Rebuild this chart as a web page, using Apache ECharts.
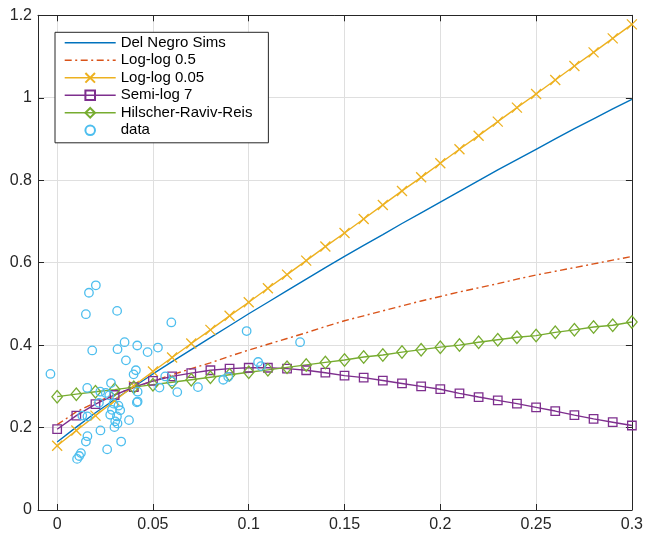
<!DOCTYPE html>
<html><head><meta charset="utf-8">
<script src="https://cdn.jsdelivr.net/npm/echarts@6/dist/echarts.min.js"></script>
<style>html,body{margin:0;padding:0;background:#fff}#c{width:646px;height:533px}</style>
</head><body><div id="c"></div>
<script>
const seriesNames = ['Del Negro Sims', 'Log-log 0.5', 'Log-log 0.05', 'Semi-log 7', 'Hilscher-Raviv-Reis', 'data'];
const xTicks = [0, 0.05, 0.1, 0.15, 0.2, 0.25, 0.3];
const yTicks = [0, 0.2, 0.4, 0.6, 0.8, 1, 1.2];
const xFit = [0,0.01,0.02,0.03,0.04,0.05,0.06,0.07,0.08,0.09,0.1,0.11,0.12,0.13,0.14,0.15,0.16,0.17,0.18,0.19,0.2,0.21,0.22,0.23,0.24,0.25,0.26,0.27,0.28,0.29,0.3];
const delNegroSims = [0.165,0.201,0.236,0.268,0.299,0.330,0.360,0.389,0.418,0.447,0.476,0.504,0.532,0.560,0.588,0.615,0.642,0.668,0.695,0.721,0.747,0.773,0.799,0.825,0.850,0.875,0.900,0.925,0.949,0.973,0.996];
const logLog05 = [0.207,0.238,0.261,0.280,0.297,0.313,0.328,0.343,0.357,0.373,0.388,0.402,0.416,0.430,0.445,0.459,0.471,0.483,0.495,0.507,0.518,0.529,0.539,0.549,0.560,0.570,0.579,0.588,0.597,0.606,0.615];
const logLog005 = [0.156,0.193,0.229,0.265,0.301,0.336,0.370,0.404,0.437,0.471,0.504,0.538,0.571,0.605,0.639,0.672,0.706,0.740,0.774,0.807,0.841,0.875,0.908,0.942,0.976,1.009,1.043,1.077,1.110,1.144,1.178];
const semiLog7 = [0.196,0.229,0.257,0.279,0.298,0.313,0.324,0.332,0.339,0.343,0.345,0.345,0.343,0.339,0.333,0.326,0.321,0.314,0.307,0.300,0.293,0.283,0.274,0.266,0.258,0.249,0.240,0.230,0.221,0.213,0.205];
const hilscher = [0.275,0.281,0.287,0.292,0.298,0.304,0.310,0.316,0.322,0.328,0.334,0.340,0.346,0.352,0.358,0.364,0.371,0.376,0.383,0.389,0.395,0.400,0.407,0.413,0.419,0.423,0.431,0.437,0.444,0.448,0.456];
const dataX = [0.0202,0.0166,0.0150,0.0313,0.0596,0.0352,0.0315,0.0183,0.0418,0.0472,0.0526,0.0359,0.0411,0.0399,-0.0035,0.0281,0.0157,0.0534,0.0564,0.0627,0.0735,0.0420,0.0420,0.0218,0.0254,0.0131,0.0158,0.0375,0.0315,0.0299,0.0226,0.0158,0.0150,0.0334,0.0261,0.0124,0.0115,0.0104,0.0989,0.1268,0.1049,0.1064,0.0867,0.0893,0.0599,0.0272,0.0294,0.0320,0.0286,0.0329,0.0277,0.0312,0.0303,0.0416,0.0225];
const dataY = [0.545,0.527,0.475,0.483,0.455,0.407,0.390,0.387,0.399,0.383,0.394,0.363,0.339,0.329,0.330,0.308,0.296,0.297,0.324,0.286,0.298,0.287,0.263,0.260,0.284,0.229,0.227,0.218,0.210,0.201,0.193,0.179,0.166,0.166,0.147,0.138,0.131,0.124,0.434,0.407,0.359,0.349,0.316,0.323,0.312,0.278,0.258,0.253,0.243,0.242,0.231,0.227,0.215,0.261,0.287];

const colors = ['#0072BD', '#D95319', '#EDB120', '#7E2F8E', '#77AC30', '#4DBEEE'];
const FONT = '"Liberation Sans", Arial, Helvetica, sans-serif';
const AX = '#262626';
const LW = 1.4;
const pair = (xs, ys) => xs.map((x, i) => [x, ys[i]]);

function lineSeries(idx, ys, extra) {
  return Object.assign({
    name: seriesNames[idx], type: 'line', data: pair(xFit, ys),
    xAxisIndex: 0, yAxisIndex: 0, symbol: 'none', silent: true,
    lineStyle: { color: colors[idx], width: LW },
    itemStyle: { color: 'rgba(0,0,0,0)', borderColor: colors[idx], borderWidth: 1.3 }
  }, extra || {});
}

const baseX = { type: 'value', min: -0.01, max: 0.3 };
const baseY = { type: 'value', min: 0, max: 1.2, interval: 0.2 };

const option = {
  animation: false,
  backgroundColor: '#fff',
  grid: { left: 38, right: 13.7, top: 15.3, bottom: 22.7, containLabel: false },
  xAxis: [
    Object.assign({}, baseX, {
      position: 'bottom',
      axisLine: { show: true, onZero: false, lineStyle: { color: AX, width: 1 } },
      axisTick: { show: true, inside: true, length: 6, customValues: xTicks, lineStyle: { color: AX } },
      axisLabel: { show: true, customValues: xTicks, fontSize: 16, color: AX, fontFamily: FONT, margin: 7 },
      splitLine: { show: true, lineStyle: { color: '#dfdfdf', width: 1 } }
    }),
    Object.assign({}, baseX, {
      position: 'top',
      axisLine: { show: true, onZero: false, lineStyle: { color: AX, width: 1 } },
      axisTick: { show: true, inside: true, length: 6, customValues: xTicks, lineStyle: { color: AX } },
      axisLabel: { show: false },
      splitLine: { show: false }
    })
  ],
  yAxis: [
    Object.assign({}, baseY, {
      position: 'left',
      axisLine: { show: true, onZero: false, lineStyle: { color: AX, width: 1 } },
      axisTick: { show: true, inside: true, length: 6, lineStyle: { color: AX } },
      axisLabel: { show: true, fontSize: 16, color: AX, fontFamily: FONT, margin: 6,
        customValues: yTicks },
      splitLine: { show: true, lineStyle: { color: '#dfdfdf', width: 1 } }
    }),
    Object.assign({}, baseY, {
      position: 'right',
      axisLine: { show: true, onZero: false, lineStyle: { color: AX, width: 1 } },
      axisTick: { show: true, inside: true, length: 6, lineStyle: { color: AX } },
      axisLabel: { show: false },
      splitLine: { show: false }
    })
  ],
  legend: {
    orient: 'vertical', left: 55, top: 32.3,
    itemWidth: 51, itemHeight: 12, itemGap: 2.5,
    padding: [3, 16, 5, 9],
    borderColor: AX, borderWidth: 1, backgroundColor: '#fff',
    selectedMode: false,
    lineStyle: { width: LW },
    textStyle: { fontSize: 15, color: '#000', fontFamily: FONT, lineHeight: 14 },
    data: [
      { name: seriesNames[0], itemStyle: { opacity: 0 } },
      { name: seriesNames[1], itemStyle: { opacity: 0 } },
      { name: seriesNames[2] },
      { name: seriesNames[3] },
      { name: seriesNames[4] },
      { name: seriesNames[5], lineStyle: { opacity: 0, width: 0 } }
    ]
  },
  series: [
    lineSeries(0, delNegroSims),
    lineSeries(1, logLog05, { lineStyle: { color: colors[1], width: LW, type: [7, 3.5, 2, 3.5] } }),
    lineSeries(2, logLog005, { symbol: 'path://M0,0L10,10M10,0L0,10', symbolSize: 10, showAllSymbol: true,
      itemStyle: { color: colors[2], borderColor: colors[2], borderWidth: 1.3 } }),
    lineSeries(3, semiLog7, { symbol: 'rect', symbolSize: 8.5, showAllSymbol: true }),
    lineSeries(4, hilscher, { symbol: 'diamond', symbolSize: [10.5, 12.5], showAllSymbol: true }),
    {
      name: seriesNames[5], type: 'line', data: pair(dataX, dataY),
      xAxisIndex: 0, yAxisIndex: 0, silent: true,
      symbol: 'circle', symbolSize: 8.5, showAllSymbol: true,
      lineStyle: { width: 0, opacity: 0, color: colors[5] },
      itemStyle: { color: 'rgba(0,0,0,0)', borderColor: colors[5], borderWidth: 1.3 }
    }
  ]
};

const chart = echarts.init(document.getElementById('c'), null, { renderer: 'canvas' });
chart.setOption(option);
</script>
</body></html>
